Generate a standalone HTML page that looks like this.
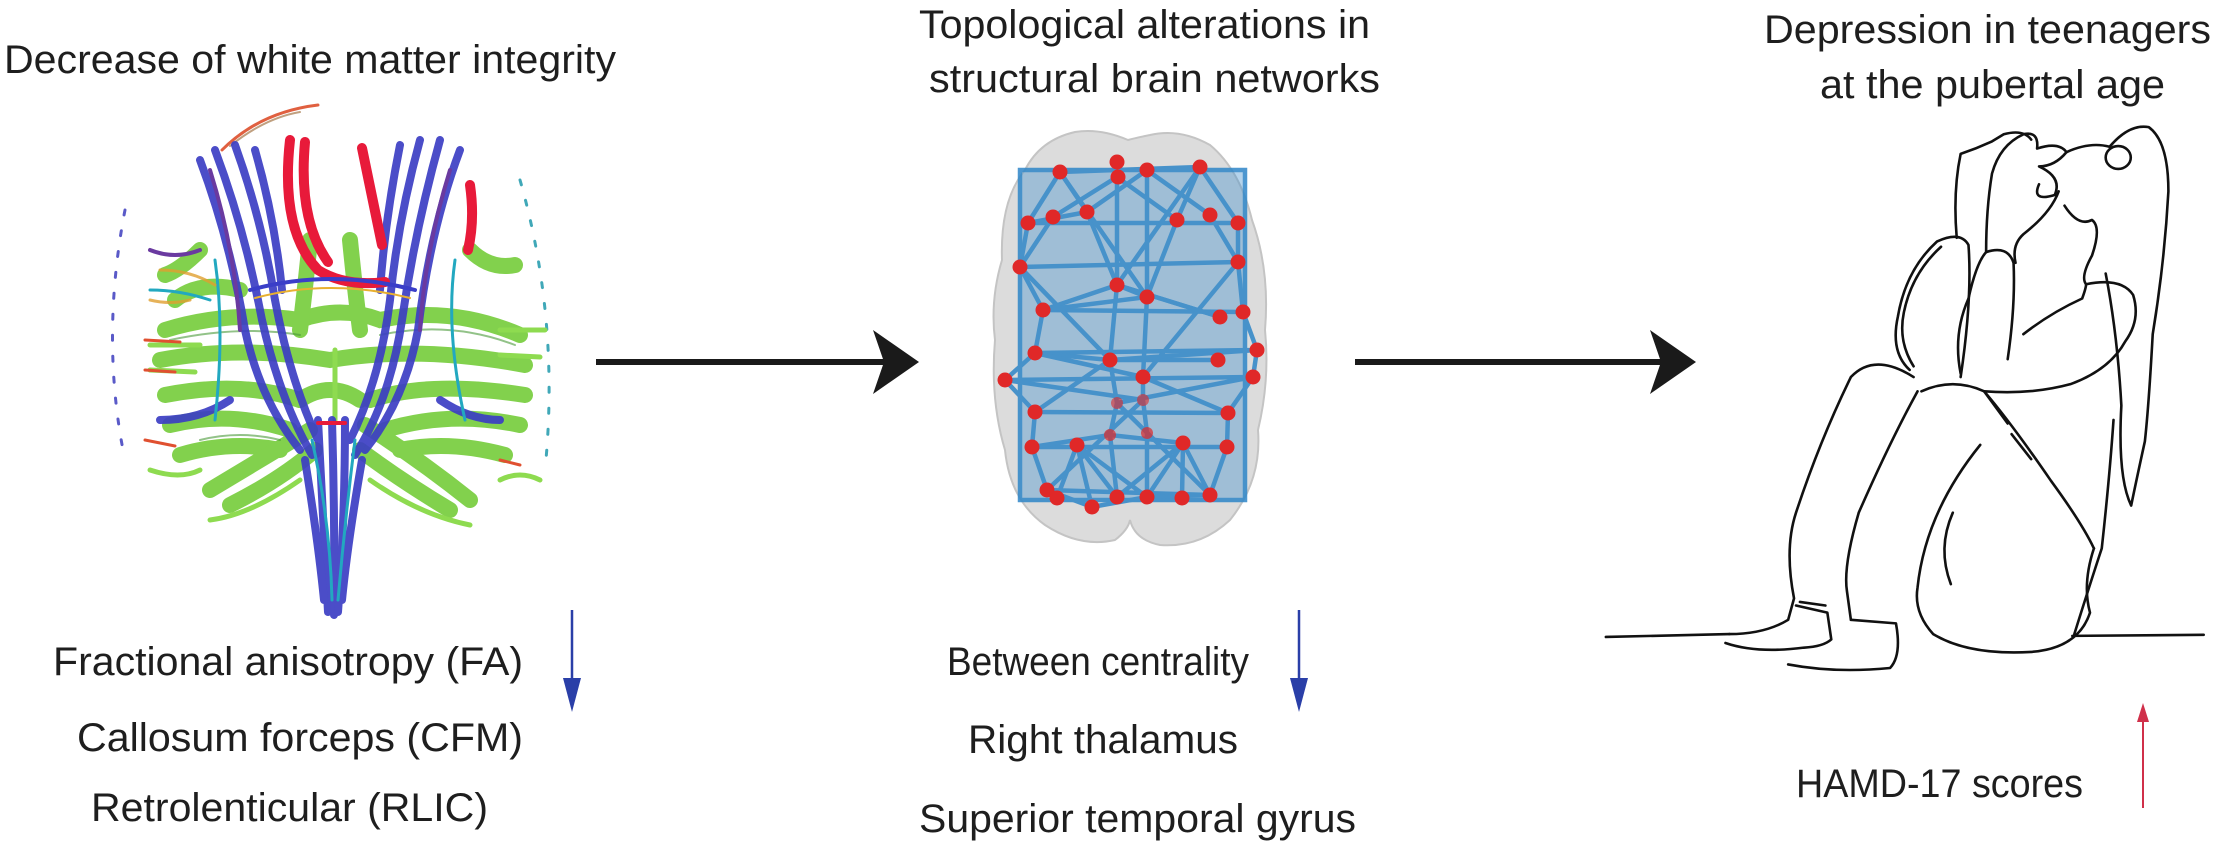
<!DOCTYPE html>
<html><head><meta charset="utf-8"><style>
html,body{margin:0;padding:0;background:#fff}
svg{display:block}
text{font-family:"Liberation Sans",Arial,sans-serif;fill:#1e1e1e;font-size:40px}
</style></head><body>
<svg width="2213" height="850" viewBox="0 0 2213 850" xmlns="http://www.w3.org/2000/svg">
<text x="4" y="73" textLength="612" lengthAdjust="spacingAndGlyphs">Decrease of white matter integrity</text>
<text x="919" y="38" textLength="451" lengthAdjust="spacingAndGlyphs">Topological alterations in</text>
<text x="929" y="92" textLength="451" lengthAdjust="spacingAndGlyphs">structural brain networks</text>
<text x="1764" y="43" textLength="447" lengthAdjust="spacingAndGlyphs">Depression in teenagers</text>
<text x="1820" y="98" textLength="345" lengthAdjust="spacingAndGlyphs">at the pubertal age</text>

<text x="53" y="675" textLength="470" lengthAdjust="spacingAndGlyphs">Fractional anisotropy (FA)</text>
<text x="77" y="751" textLength="446" lengthAdjust="spacingAndGlyphs">Callosum forceps (CFM)</text>
<text x="91" y="821" textLength="397" lengthAdjust="spacingAndGlyphs">Retrolenticular (RLIC)</text>
<text x="947" y="675" textLength="302" lengthAdjust="spacingAndGlyphs">Between centrality</text>
<text x="968" y="753" textLength="270" lengthAdjust="spacingAndGlyphs">Right thalamus</text>
<text x="919" y="832" textLength="437" lengthAdjust="spacingAndGlyphs">Superior temporal gyrus</text>
<text x="1796" y="797" textLength="287" lengthAdjust="spacingAndGlyphs">HAMD-17 scores</text>

<g stroke="#2a3fa8" stroke-width="2.5" fill="#2a3fa8">
<line x1="572" y1="610" x2="572" y2="695"/><path d="M563,678 L572,712 L581,678 Z" stroke="none"/>
<line x1="1299" y1="610" x2="1299" y2="695"/><path d="M1290,678 L1299,712 L1308,678 Z" stroke="none"/>
</g>
<g stroke="#d0304a" stroke-width="2" fill="#d0304a">
<line x1="2143" y1="720" x2="2143" y2="808"/><path d="M2137,722 L2143,703 L2149,722 Z" stroke="none"/>
</g>

<g fill="#1a1a1a">
<rect x="596" y="359" width="290" height="6"/>
<path d="M873,330 L919,362 L873,394 L884,362 Z"/>
<rect x="1355" y="359" width="310" height="6"/>
<path d="M1650,330 L1696,362 L1650,394 L1661,362 Z"/>
</g>

<!-- left brain fibers -->
<g fill="none" stroke-linecap="round">
<g stroke-width="3" stroke-dasharray="5 16">
<path d="M125,210 Q100,340 125,460" stroke="#5a5ac8"/>
<path d="M520,180 Q560,320 545,470" stroke="#40a8b8"/>
</g>
<path d="M222,150 Q260,112 318,105" stroke="#e06040" stroke-width="3"/>
<path d="M230,146 Q265,118 300,112" stroke="#c0a080" stroke-width="2"/>
<!-- green mass -->
<g stroke="#7ccf44" stroke-width="16" opacity="0.95">
<path d="M175,300 Q200,280 240,290"/>
<path d="M165,330 Q230,310 300,320 Q340,305 380,320 Q450,305 520,335"/>
<path d="M160,360 Q240,345 330,360 Q420,345 525,365"/>
<path d="M165,395 Q240,380 300,400"/>
<path d="M525,395 Q430,380 370,400"/>
<path d="M170,425 Q230,410 290,430"/>
<path d="M520,425 Q450,410 385,430"/>
<path d="M180,455 Q230,440 280,450"/>
<path d="M505,455 Q450,440 400,450"/>
<path d="M310,240 Q305,290 300,330"/>
<path d="M350,240 Q355,290 360,330"/>
<path d="M300,400 Q330,380 360,400"/>
<path d="M210,490 Q260,460 310,430"/>
<path d="M470,500 Q420,460 365,425"/>
<path d="M230,505 Q280,480 315,450"/>
<path d="M450,510 Q400,480 360,450"/>
<path d="M470,250 Q490,270 515,265"/>
<path d="M200,250 Q180,270 165,275"/>
</g>
<g stroke="#8edb50" stroke-width="5">
<path d="M150,345 L200,345"/><path d="M150,370 L195,372"/><path d="M500,330 L545,330"/><path d="M500,355 L540,357"/>
<path d="M150,470 Q180,480 200,470"/><path d="M500,480 Q520,470 540,480"/>
<path d="M210,520 Q250,515 300,480"/><path d="M470,525 Q420,515 370,480"/>
<path d="M335,350 L335,420"/>
</g>
<g stroke="#4a9a38" stroke-width="2" opacity="0.6">
<path d="M170,340 Q240,325 300,335"/><path d="M380,335 Q450,320 515,345"/><path d="M200,440 Q240,430 280,440"/>
</g>
<!-- blue/purple tracts -->
<g stroke="#3c3ec4" stroke-width="8" opacity="0.92">
<path d="M200,160 Q230,240 245,330 Q260,400 300,450"/>
<path d="M215,150 Q245,230 262,320 Q280,400 312,455"/>
<path d="M235,145 Q262,220 275,300 Q290,380 318,440"/>
<path d="M255,150 Q275,220 282,290"/>
<path d="M460,150 Q430,230 418,330 Q405,400 365,450"/>
<path d="M440,140 Q415,230 402,320 Q390,400 355,455"/>
<path d="M420,140 Q398,220 390,300 Q380,380 350,440"/>
<path d="M400,145 Q385,220 380,290"/>
<path d="M318,420 Q323,520 328,612"/>
<path d="M332,420 Q335,520 334,615"/>
<path d="M345,420 Q345,520 338,612"/>
<path d="M305,460 Q318,540 324,600"/>
<path d="M362,460 Q348,540 342,600"/>
<path d="M160,420 Q200,420 230,400"/>
<path d="M500,420 Q470,420 440,400"/>
</g>
<g stroke="#6a3aa0" stroke-width="4">
<path d="M210,170 Q235,250 240,330"/><path d="M450,170 Q425,250 420,330"/>
<path d="M150,250 Q175,260 200,250"/>
</g>
<g stroke="#22a8c0" stroke-width="3">
<path d="M215,260 Q225,330 215,420"/><path d="M455,260 Q445,330 465,420"/>
<path d="M312,440 Q330,520 332,600"/><path d="M355,440 Q345,520 338,600"/>
<path d="M150,290 Q180,290 210,300"/>
</g>
<g stroke="#e0a030" stroke-width="3" opacity="0.8">
<path d="M160,270 Q190,270 215,285"/><path d="M150,300 Q170,305 190,300"/>
</g>
<g stroke="#e05030" stroke-width="3">
<path d="M145,340 L180,342"/><path d="M145,370 L175,372"/><path d="M145,440 L175,446"/><path d="M500,460 L520,465"/>
</g>
<!-- red callosum -->
<g stroke="#e81a3a" stroke-width="10">
<path d="M290,140 Q280,230 318,270 Q345,287 385,282"/>
<path d="M305,142 Q298,220 328,262"/>
<path d="M362,148 Q375,210 382,245"/>
<path d="M470,185 Q475,220 468,250"/>
</g>
<path d="M250,290 Q330,268 415,290" stroke="#3a3ec8" stroke-width="4"/>
<path d="M255,298 Q330,278 410,298" stroke="#e8b030" stroke-width="2"/>
<path d="M318,423 L345,423" stroke="#e81a3a" stroke-width="4"/>
</g>

<!-- center brain network -->
<g>
<path d="M1128,140 Q1100,128 1075,132 Q1040,140 1025,170 Q1000,200 1002,260 Q990,300 995,340 Q990,400 1005,450 Q1010,500 1045,525 Q1080,548 1115,540 Q1128,530 1130,520 Q1135,540 1160,545 Q1200,548 1230,520 Q1262,480 1258,430 Q1270,380 1265,330 Q1270,270 1252,220 Q1240,170 1210,145 Q1180,128 1150,135 Q1135,138 1128,140 Z" fill="#dcdcdc" stroke="#c4c4c4" stroke-width="2"/>
<g stroke="#2e86c8" stroke-width="4.5" opacity="0.85" fill="none">
<rect x="1020" y="170" width="225" height="330" fill="#3f8fcc" fill-opacity="0.45"/>
<path d="M1060,172 L1200,167 M1028,223 L1238,223 M1020,267 L1238,262 M1043,310 L1243,312 M1035,353 L1257,350 M1005,380 L1253,377 M1035,412 L1228,413 M1032,447 L1227,447 M1047,490 L1210,495"/>
<path d="M1060,172 L1028,223 L1020,267 L1043,310 L1035,353 L1005,380 L1035,412 L1032,447 L1047,490 L1092,507 L1147,497 L1210,495 L1227,447 L1228,413 L1253,377 L1257,350 L1243,312 L1238,262 L1238,223 L1200,167"/>
<path d="M1117,162 L1117,285 L1110,360 L1117,403 L1110,435 L1117,497 M1147,170 L1147,297 L1143,377 L1143,400 L1147,433 L1147,497"/>
<path d="M1060,172 L1087,212 L1117,285 L1147,297 L1177,220 L1200,167 M1053,217 L1117,177 L1177,220 M1087,212 L1147,170 L1210,215"/>
<path d="M1043,310 L1117,285 L1220,317 M1035,353 L1110,360 L1218,360 M1077,445 L1147,497 L1183,443 L1117,497 L1077,445 M1057,498 L1077,445 L1092,507 M1182,498 L1183,443 L1210,495"/>
<path d="M1028,223 L1087,212 M1210,215 L1238,262 M1020,267 L1053,217 M1035,412 L1110,360 M1228,413 L1143,377 M1032,447 L1110,435 L1183,443 M1005,380 L1143,400 M1253,377 L1117,403"/>
<path d="M1043,310 L1147,297 M1220,317 L1117,285 M1035,353 L1143,377 M1257,350 L1110,360 M1060,172 L1147,297 M1200,167 L1117,285 M1020,267 L1110,360 M1238,262 L1143,377 M1047,490 L1143,400 M1210,495 L1117,403"/>
</g>
<g fill="#e02828">
<circle cx="1060" cy="172" r="7.5"/><circle cx="1117" cy="162" r="7.5"/><circle cx="1118" cy="177" r="7.5"/><circle cx="1147" cy="170" r="7.5"/><circle cx="1200" cy="167" r="7.5"/>
<circle cx="1028" cy="223" r="7.5"/><circle cx="1053" cy="217" r="7.5"/><circle cx="1087" cy="212" r="7.5"/><circle cx="1177" cy="220" r="7.5"/><circle cx="1210" cy="215" r="7.5"/><circle cx="1238" cy="223" r="7.5"/>
<circle cx="1020" cy="267" r="7.5"/><circle cx="1238" cy="262" r="7.5"/><circle cx="1117" cy="285" r="7.5"/><circle cx="1147" cy="297" r="7.5"/>
<circle cx="1043" cy="310" r="7.5"/><circle cx="1220" cy="317" r="7.5"/><circle cx="1243" cy="312" r="7.5"/>
<circle cx="1035" cy="353" r="7.5"/><circle cx="1110" cy="360" r="7.5"/><circle cx="1218" cy="360" r="7.5"/><circle cx="1257" cy="350" r="7.5"/>
<circle cx="1005" cy="380" r="7.5"/><circle cx="1143" cy="377" r="7.5"/><circle cx="1253" cy="377" r="7.5"/>
<circle cx="1035" cy="412" r="7.5"/><circle cx="1228" cy="413" r="7.5"/><circle cx="1143" cy="400" r="6" opacity="0.6"/><circle cx="1117" cy="403" r="6" opacity="0.6"/>
<circle cx="1032" cy="447" r="7.5"/><circle cx="1077" cy="445" r="7.5"/><circle cx="1183" cy="443" r="7.5"/><circle cx="1227" cy="447" r="7.5"/><circle cx="1110" cy="435" r="6" opacity="0.7"/><circle cx="1147" cy="433" r="6" opacity="0.7"/>
<circle cx="1047" cy="490" r="7.5"/><circle cx="1057" cy="498" r="7.5"/><circle cx="1092" cy="507" r="7.5"/><circle cx="1117" cy="497" r="7.5"/><circle cx="1147" cy="497" r="7.5"/><circle cx="1182" cy="498" r="7.5"/><circle cx="1210" cy="495" r="7.5"/>
</g>
</g>

<!-- girl figure -->
<g transform="translate(1600,120) scale(0.392,0.357)" fill="none" stroke="#111" stroke-width="2.6" stroke-linecap="round" stroke-linejoin="round">
<path vector-effect="non-scaling-stroke" d="M15,1448 L330,1440"/>
<path vector-effect="non-scaling-stroke" d="M1205,1445 L1540,1442"/>
<path vector-effect="non-scaling-stroke" d="M320,1465 Q400,1495 520,1478 Q570,1475 590,1455 L580,1380 L500,1360"/>
<path vector-effect="non-scaling-stroke" d="M330,1440 Q420,1440 480,1400 L495,1340 Q470,1200 500,1100 Q560,900 640,720 Q700,650 800,720"/>
<path vector-effect="non-scaling-stroke" d="M480,1525 Q600,1550 740,1535 Q770,1500 755,1410 L640,1400"/>
<path vector-effect="non-scaling-stroke" d="M810,760 Q740,900 660,1100 Q620,1250 630,1320 L640,1400"/>
<path vector-effect="non-scaling-stroke" d="M510,1350 L575,1360"/>
<path vector-effect="non-scaling-stroke" d="M820,760 Q900,720 980,760 Q1050,850 1150,1010 Q1230,1130 1260,1200"/>
<path vector-effect="non-scaling-stroke" d="M1260,1200 Q1230,1300 1250,1380 Q1220,1480 1100,1490 Q940,1500 850,1440 Q800,1380 810,1310 Q830,1100 970,910"/>
<path vector-effect="non-scaling-stroke" d="M895,1300 Q860,1200 900,1100"/>
<path vector-effect="non-scaling-stroke" d="M790,700 Q740,650 760,550 Q780,420 860,340 Q920,310 940,350 Q950,500 920,720"/>
<path vector-effect="non-scaling-stroke" d="M800,690 Q760,620 775,540 Q795,430 870,355"/>
<path vector-effect="non-scaling-stroke" d="M920,710 Q900,600 940,500 Q960,400 985,370 Q1040,350 1055,400 Q1060,520 1040,670"/>
<path vector-effect="non-scaling-stroke" d="M985,370 Q985,250 1000,150 Q1020,70 1080,40 Q1120,30 1115,80 Q1170,60 1190,90 Q1160,130 1120,130 Q1180,160 1160,210 Q1100,230 1120,180"/>
<path vector-effect="non-scaling-stroke" d="M1170,200 Q1150,260 1080,320 Q1050,350 1060,400"/>
<path vector-effect="non-scaling-stroke" d="M910,330 Q900,200 920,95 Q960,80 1000,60 L1030,40 Q1080,25 1100,55"/>
<path vector-effect="non-scaling-stroke" d="M1190,90 Q1250,60 1300,75"/>
<path vector-effect="non-scaling-stroke" d="M1185,240 Q1220,300 1255,280 Q1280,300 1255,380 Q1225,440 1240,460"/>
<path vector-effect="non-scaling-stroke" d="M1240,460 Q1330,440 1360,490 Q1380,560 1340,620 Q1300,700 1200,740 Q1100,770 980,760"/>
<path vector-effect="non-scaling-stroke" d="M1080,600 Q1150,540 1230,500 Q1240,470 1240,460"/>
<path vector-effect="non-scaling-stroke" d="M1300,75 Q1350,10 1400,20 Q1450,60 1450,200 Q1440,400 1410,600 Q1400,800 1390,900 Q1370,1000 1355,1080 Q1320,1000 1330,800 Q1320,600 1290,430"/>
<circle vector-effect="non-scaling-stroke" cx="1322" cy="105" r="32"/>
<path vector-effect="non-scaling-stroke" d="M1310,840 Q1300,1000 1280,1200 Q1250,1300 1210,1440"/>
<path vector-effect="non-scaling-stroke" d="M980,760 L1040,850 M1050,880 L1100,950"/>
</g>
</svg>
</body></html>
